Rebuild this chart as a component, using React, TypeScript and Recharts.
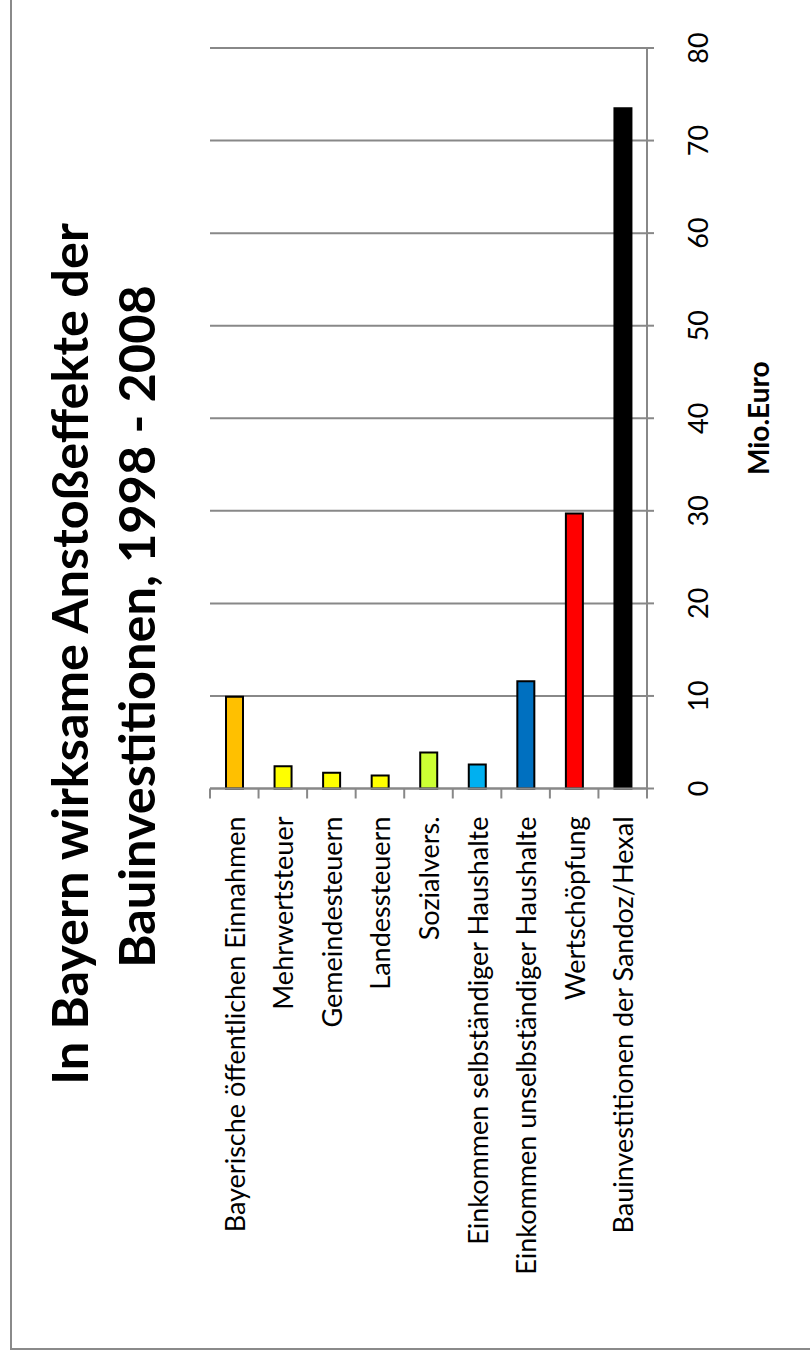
import React from 'react';
import { BarChart, Bar, XAxis, YAxis, CartesianGrid, Cell } from 'recharts';

const categories = [
  'Bayerische öffentlichen Einnahmen',
  'Mehrwertsteuer',
  'Gemeindesteuern',
  'Landessteuern',
  'Sozialvers.',
  'Einkommen selbständiger Haushalte',
  'Einkommen unselbständiger Haushalte',
  'Wertschöpfung',
  'Bauinvestitionen der Sandoz/Hexal',
];
const values = [9.9, 2.4, 1.7, 1.4, 3.9, 2.6, 11.6, 29.7, 73.5];
const barColors = ['#FFC000', '#FFFF00', '#FFFF00', '#FFFF00', '#CCFF33', '#00B0F0', '#0070C0', '#FF0000', '#000000'];
const valueTicks = [0, 10, 20, 30, 40, 50, 60, 70, 80];
const titleLines = ['In Bayern wirksame Anstoßeffekte der', 'Bauinvestitionen, 1998 - 2008'];
const axisTitle = 'Mio.Euro';

const data = categories.map((name, i) => ({ name, value: values[i] }));

const GRID = '#888888';
const FONT = 'Lato, "Open Sans", sans-serif';

const CategoryTick = (props: any) => {
  const { x, y, payload, index, visibleTicksCount, width } = props;
  const off = payload && payload.offset != null ? payload.offset : width / visibleTicksCount / 2;
  const ty = y + 28;
  return (
    <g>
      <line x1={x - off} y1={y} x2={x - off} y2={y + 10} stroke={GRID} strokeWidth={2} />
      {index === visibleTicksCount - 1 && (
        <line x1={x + off} y1={y} x2={x + off} y2={y + 10} stroke={GRID} strokeWidth={2} />
      )}
      <text
        transform={`translate(${x},${ty}) rotate(-90)`}
        textAnchor="end"
        dy={10.5}
        fontFamily={FONT}
        fontSize={27}
        fill="#000"
      >
        {payload.value}
      </text>
    </g>
  );
};

const ValueTick = (props: any) => {
  const { x, y, payload } = props;
  return (
    <text
      transform={`translate(${x},${y}) rotate(-90)`}
      textAnchor="middle"
      fontFamily={FONT}
      fontSize={27}
      fill="#000"
    >
      {payload.value}
    </text>
  );
};

const AxisTitle = (props: any) => {
  const vb = props.viewBox || {};
  const x = vb.x + 122;
  const y = vb.y + vb.height / 2;
  return (
    <text
      transform={`translate(${x},${y}) rotate(-90)`}
      textAnchor="middle"
      fontFamily={FONT}
      fontWeight="bold"
      fontSize={28}
      fill="#000"
    >
      {axisTitle}
    </text>
  );
};

export default function App() {
  return (
    <div style={{ position: 'absolute', left: 0, top: 0, width: 810, height: 1360, background: '#fff', overflow: 'hidden' }}>
      <div
        style={{
          position: 'absolute',
          left: 10,
          top: -20,
          width: 800,
          height: 1370,
          boxSizing: 'border-box',
          borderLeft: '2px solid #8a8a8a',
          borderBottom: '2px solid #8a8a8a',
        }}
      />
      <div style={{ position: 'absolute', left: 0, top: 0 }}>
        <BarChart
          width={810}
          height={1360}
          data={data}
          margin={{ top: 48, left: 210, right: 33, bottom: 51.5 }}
        >
          <CartesianGrid vertical={false} stroke={GRID} strokeWidth={2} />
          <XAxis
            dataKey="name"
            type="category"
            height={520}
            interval={0}
            tickLine={false}
            tickSize={0}
            tickMargin={0}
            axisLine={{ stroke: GRID, strokeWidth: 2 }}
            tick={<CategoryTick />}
          />
          <YAxis
            orientation="right"
            width={130}
            domain={[0, 80]}
            ticks={valueTicks}
            interval={0}
            tickSize={7}
            tickMargin={54}
            tickLine={{ stroke: GRID, strokeWidth: 2 }}
            axisLine={{ stroke: GRID, strokeWidth: 2 }}
            tick={<ValueTick />}
            label={<AxisTitle />}
          />
          <Bar dataKey="value" barSize={17} stroke="#000" strokeWidth={2} isAnimationActive={false}>
            {data.map((d, i) => (
              <Cell key={d.name} fill={barColors[i]} />
            ))}
          </Bar>
        </BarChart>
      </div>
      <svg
        width={810}
        height={1360}
        style={{ position: 'absolute', left: 0, top: 0, pointerEvents: 'none' }}
      >
        <text
          transform="translate(88,654) rotate(-90)"
          textAnchor="middle"
          fontFamily={FONT}
          fontWeight="bold"
          fontSize={50.5}
          fill="#000"
        >
          {titleLines[0]}
        </text>
        <text
          transform="translate(155,626.5) rotate(-90)"
          textAnchor="middle"
          fontFamily={FONT}
          fontWeight="bold"
          fontSize={50.5}
          fill="#000"
        >
          {titleLines[1]}
        </text>
      </svg>
    </div>
  );
}
